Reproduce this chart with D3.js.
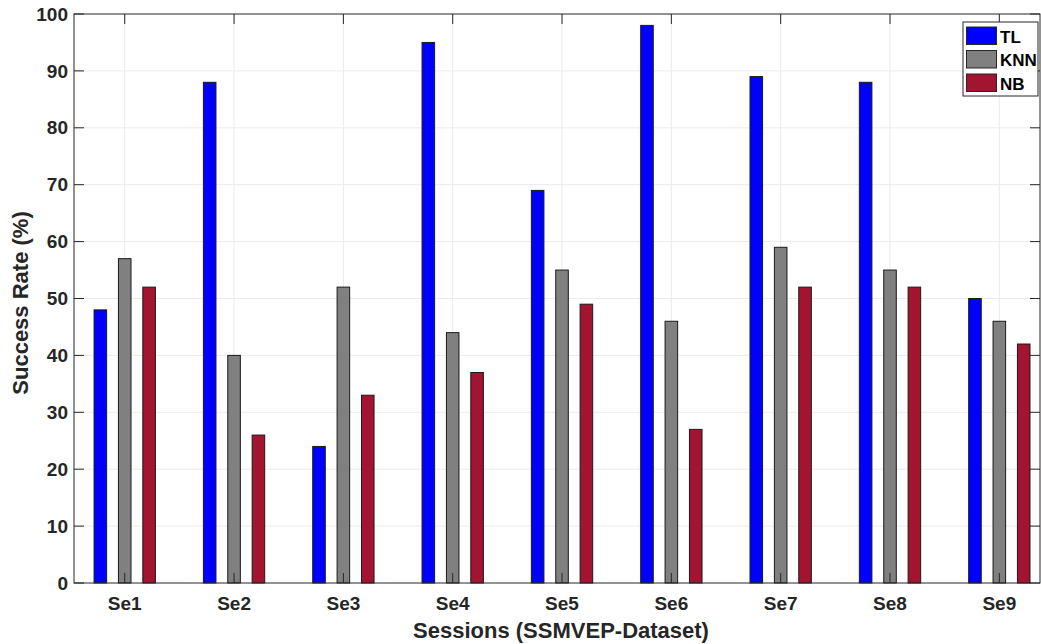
<!DOCTYPE html>
<html>
<head>
<meta charset="utf-8">
<script src="https://cdn.jsdelivr.net/npm/d3@7"></script>
<style>
	html, body { margin: 0; padding: 0; background: #fff; }
	text { font-family: "Liberation Sans", Arial, sans-serif; font-weight: bold; }
</style>
</head>
<body>
<div id="chart"></div>
<script>
// session labels and success rates (%)
const sessions = ['Se1', 'Se2', 'Se3', 'Se4', 'Se5', 'Se6', 'Se7', 'Se8', 'Se9'];
const seriesNames = ['TL', 'KNN', 'NB'];
const tlValues = [48, 88, 24, 95, 69, 98, 89, 88, 50];
const knnValues = [57, 40, 52, 44, 55, 46, 59, 55, 46];
const nbValues = [52, 26, 33, 37, 49, 27, 52, 52, 42];
const yTicks = [0, 10, 20, 30, 40, 50, 60, 70, 80, 90, 100];

const seriesValues = [tlValues, knnValues, nbValues];
const colors = ['#0000ff', '#808080', '#a2142f'];

const W = 1041, H = 644;
const plot = { left: 74, right: 1040, top: 14, bottom: 583 };
const axisColor = '#262626';
const tickLen = 10;

const svg = d3.select('#chart')
	.append('svg')
	.attr('width', W)
	.attr('height', H)
	.attr('viewBox', `0 0 ${W} ${H}`);

// x in category units (1..9), like a matlab bar plot
const x = d3.scaleLinear()
	.domain([0.536, 9.372])
	.range([plot.left, plot.right]);

const y = d3.scaleLinear()
	.domain([0, 100])
	.range([plot.bottom, plot.top]);

const barOffset = 0.223,
	barWidth = 0.115;

// grid
const grid = svg.append('g').classed('grid', true);
grid.selectAll('line.gy')
	.data(yTicks.slice(1, -1))
	.enter()
	.append('line')
	.attr('x1', plot.left).attr('x2', plot.right)
	.attr('y1', d => y(d)).attr('y2', d => y(d))
	.attr('stroke', '#ebebeb').attr('stroke-width', 1);
grid.selectAll('line.gx')
	.data(sessions)
	.enter()
	.append('line')
	.attr('x1', (d, i) => x(i + 1)).attr('x2', (d, i) => x(i + 1))
	.attr('y1', plot.top).attr('y2', plot.bottom)
	.attr('stroke', '#ebebeb').attr('stroke-width', 1);

// bars
seriesValues.forEach((vals, s) => {
	svg.append('g')
		.selectAll('rect')
		.data(vals)
		.enter()
		.append('rect')
		.attr('x', (d, i) => x(i + 1 + (s - 1) * barOffset - barWidth / 2))
		.attr('width', x(barWidth) - x(0))
		.attr('y', d => y(d))
		.attr('height', d => y(0) - y(d))
		.attr('fill', colors[s])
		.attr('stroke', '#1a1a1a')
		.attr('stroke-width', 1);
});

// axes box with inward ticks
const axes = svg.append('g').classed('axes', true);
axes.append('rect')
	.attr('x', plot.left).attr('y', plot.top)
	.attr('width', plot.right - plot.left)
	.attr('height', plot.bottom - plot.top)
	.attr('fill', 'none')
	.attr('stroke', axisColor)
	.attr('stroke-width', 1);

yTicks.forEach(t => {
	axes.append('line')
		.attr('x1', plot.left).attr('x2', plot.left + tickLen)
		.attr('y1', y(t)).attr('y2', y(t))
		.attr('stroke', axisColor);
	axes.append('line')
		.attr('x1', plot.right).attr('x2', plot.right - tickLen)
		.attr('y1', y(t)).attr('y2', y(t))
		.attr('stroke', axisColor);
});
sessions.forEach((s, i) => {
	axes.append('line')
		.attr('x1', x(i + 1)).attr('x2', x(i + 1))
		.attr('y1', plot.bottom).attr('y2', plot.bottom - tickLen)
		.attr('stroke', axisColor);
	axes.append('line')
		.attr('x1', x(i + 1)).attr('x2', x(i + 1))
		.attr('y1', plot.top).attr('y2', plot.top + tickLen)
		.attr('stroke', axisColor);
});

// tick labels
axes.selectAll('text.ytick')
	.data(yTicks)
	.enter()
	.append('text')
	.attr('x', plot.left - 6)
	.attr('y', d => y(d))
	.attr('dy', '0.35em')
	.attr('text-anchor', 'end')
	.attr('font-size', 19)
	.attr('fill', axisColor)
	.text(d => d);

axes.selectAll('text.xtick')
	.data(sessions)
	.enter()
	.append('text')
	.attr('x', (d, i) => x(i + 1))
	.attr('y', 610)
	.attr('text-anchor', 'middle')
	.attr('font-size', 19)
	.attr('fill', axisColor)
	.text(d => d);

// axis titles
svg.append('text')
	.attr('x', 561)
	.attr('y', 638)
	.attr('text-anchor', 'middle')
	.attr('font-size', 22)
	.attr('fill', axisColor)
	.text('Sessions (SSMVEP-Dataset)');

svg.append('text')
	.attr('transform', 'translate(28, 303) rotate(-90)')
	.attr('text-anchor', 'middle')
	.attr('font-size', 22)
	.attr('fill', axisColor)
	.text('Success Rate (%)');

// legend
const legend = svg.append('g').attr('transform', 'translate(963, 22)');
legend.append('rect')
	.attr('width', 75).attr('height', 74)
	.attr('fill', '#fff')
	.attr('stroke', '#262626')
	.attr('stroke-width', 1);
seriesNames.forEach((name, i) => {
	const row = legend.append('g').attr('transform', `translate(0, ${i * 23.5})`);
	row.append('rect')
		.attr('x', 3.5).attr('y', 5)
		.attr('width', 30).attr('height', 17.5)
		.attr('fill', colors[i])
		.attr('stroke', '#262626');
	row.append('text')
		.attr('x', 37).attr('y', 20.5)
		.attr('font-size', 17)
		.attr('fill', '#000')
		.text(name);
});
</script>
</body>
</html>
